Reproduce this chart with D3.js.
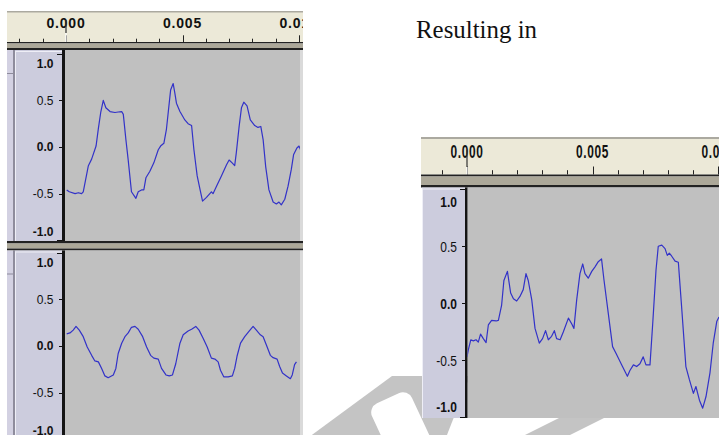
<!DOCTYPE html>
<html>
<head>
<meta charset="utf-8">
<script src="https://cdn.jsdelivr.net/npm/d3@7"></script>
<style>
  html, body { margin: 0; padding: 0; background: #fff; }
  svg { display: block; }
</style>
</head>
<body>
<svg id="chart" width="719" height="435"></svg>
<script>
// [time in ms, amplitude]
const inputTop = [[0.03,-0.46],[0.14,-0.48],[0.39,-0.50],[0.53,-0.49],[0.67,-0.50],[0.74,-0.48],[0.96,-0.20],[1.10,-0.13],[1.29,0.01],[1.39,0.20],
  [1.49,0.37],[1.60,0.50],[1.71,0.42],[1.89,0.38],[2.10,0.37],[2.24,0.375],[2.39,0.38],[2.46,0.35],[2.57,0.08],[2.67,-0.14],
  [2.81,-0.48],[3.00,-0.55],[3.10,-0.48],[3.24,-0.46],[3.34,-0.46],[3.43,-0.33],[3.60,-0.26],[3.77,-0.17],[3.96,-0.03],[4.06,0.01],
  [4.20,0.04],[4.31,0.19],[4.43,0.47],[4.49,0.61],[4.60,0.68],[4.67,0.58],[4.74,0.47],[4.89,0.38],[5.10,0.29],[5.24,0.25],
  [5.39,0.23],[5.49,-0.03],[5.63,-0.31],[5.74,-0.44],[5.86,-0.58],[6.03,-0.54],[6.24,-0.48],[6.31,-0.50],[6.46,-0.42],[6.67,-0.31],
  [6.89,-0.19],[7.00,-0.14],[7.13,-0.17],[7.24,-0.20],[7.31,-0.06],[7.43,0.22],[7.53,0.42],[7.63,0.48],[7.77,0.44],[7.91,0.29],
  [8.10,0.23],[8.24,0.21],[8.36,0.22],[8.46,0.08],[8.57,-0.21],[8.71,-0.46],[8.89,-0.59],[9.03,-0.61],[9.14,-0.59],[9.24,-0.62],
  [9.39,-0.56],[9.53,-0.42],[9.67,-0.24],[9.77,-0.08],[9.91,-0.01],[10.00,0.01],[10.10,-0.05],[10.17,-0.06]];

const inputBottom = [[0.03,0.13],[0.17,0.14],[0.31,0.17],[0.43,0.21],[0.57,0.17],[0.74,0.10],[0.91,-0.01],[1.10,-0.10],[1.24,-0.16],[1.39,-0.17],
  [1.53,-0.24],[1.67,-0.32],[1.81,-0.34],[2.03,-0.31],[2.14,-0.24],[2.24,-0.08],[2.39,0.03],[2.53,0.10],[2.67,0.14],[2.81,0.20],
  [2.96,0.21],[3.10,0.18],[3.29,0.10],[3.46,-0.01],[3.63,-0.10],[3.77,-0.13],[3.96,-0.14],[4.10,-0.24],[4.29,-0.31],[4.43,-0.32],
  [4.57,-0.31],[4.71,-0.19],[4.89,0.03],[5.03,0.12],[5.24,0.16],[5.39,0.18],[5.57,0.21],[5.71,0.17],[5.89,0.08],[6.06,-0.01],
  [6.24,-0.13],[6.39,-0.14],[6.53,-0.17],[6.63,-0.26],[6.77,-0.33],[6.96,-0.33],[7.14,-0.32],[7.24,-0.24],[7.34,-0.11],[7.49,0.03],
  [7.67,0.10],[7.86,0.16],[8.03,0.21],[8.17,0.17],[8.34,0.12],[8.46,0.10],[8.60,0.01],[8.77,-0.10],[8.89,-0.125],[9.06,-0.14],
  [9.17,-0.22],[9.29,-0.29],[9.46,-0.32],[9.63,-0.35],[9.71,-0.31],[9.81,-0.20],[9.89,-0.17]];

const result = [[0.00,-0.47],[0.05,-0.41],[0.15,-0.32],[0.25,-0.33],[0.36,-0.32],[0.45,-0.34],[0.54,-0.27],[0.65,-0.31],[0.76,-0.345],[0.85,-0.19],
  [0.98,-0.15],[1.16,-0.155],[1.25,-0.15],[1.38,-0.015],[1.47,0.20],[1.61,0.28],[1.74,0.09],[1.85,0.04],[1.98,0.02],[2.11,0.06],
  [2.24,0.12],[2.35,0.26],[2.44,0.20],[2.58,0.03],[2.71,-0.22],[2.88,-0.35],[3.01,-0.31],[3.13,-0.24],[3.24,-0.32],[3.37,-0.29],
  [3.48,-0.24],[3.57,-0.31],[3.71,-0.32],[3.84,-0.25],[4.04,-0.13],[4.17,-0.18],[4.26,-0.22],[4.37,0.03],[4.50,0.26],[4.61,0.345],
  [4.70,0.26],[4.83,0.22],[4.97,0.28],[5.10,0.32],[5.23,0.365],[5.36,0.39],[5.46,0.20],[5.63,-0.09],[5.80,-0.38],[5.96,-0.45],
  [6.16,-0.54],[6.39,-0.64],[6.49,-0.59],[6.63,-0.54],[6.76,-0.555],[6.89,-0.53],[7.02,-0.47],[7.13,-0.54],[7.29,-0.54],[7.40,-0.175],
  [7.53,0.29],[7.62,0.50],[7.76,0.51],[7.89,0.48],[7.98,0.42],[8.06,0.44],[8.15,0.415],[8.29,0.37],[8.42,0.36],[8.55,-0.03],
  [8.72,-0.555],[8.86,-0.67],[9.02,-0.79],[9.12,-0.73],[9.26,-0.85],[9.39,-0.92],[9.52,-0.82],[9.68,-0.61],[9.81,-0.35],[9.95,-0.16],[10.04,-0.12]];

const rulerTimes = [0, 5, 10];          // ms
const rulerLabels = ['0.000', '0.005', '0.010'];
const ampValues = [1, 0.5, 0, -0.5, -1];
const ampLabels = ['1.0', '0.5', '0.0', '-0.5', '-1.0'];
const ampBold = [true, false, true, false, true];

const svg = d3.select('#chart');
const defs = svg.append('defs');
let clipN = 0;

function clipRect(x, y, w, h) {
  const id = 'clip' + (clipN++);
  defs.append('clipPath').attr('id', id).append('rect')
    .attr('x', x).attr('y', y).attr('width', w).attr('height', h);
  return `url(#${id})`;
}

function label(g, str, x, cy, o) {
  g.append('text')
    .attr('transform', `translate(${x},${cy}) scale(${o.sx || 1},${o.sy || 1})`)
    .attr('y', o.size * 0.36)
    .attr('text-anchor', o.anchor || 'middle')
    .style('font-family', '"Liberation Sans", Arial, sans-serif')
    .style('font-size', o.size + 'px')
    .style('font-weight', o.bold ? 'bold' : 'normal')
    .style('letter-spacing', (o.ls || 0) + 'px')
    .attr('fill', '#111')
    .text(str);
}

// dark / band / dark strip between ruler and tracks
function separator(g, c, y, s) {
  g.append('rect').attr('x', c.left).attr('y', y).attr('width', c.right - c.left).attr('height', s[0]).attr('fill', '#222');
  g.append('rect').attr('x', c.left).attr('y', y + s[0]).attr('width', c.right - c.left).attr('height', s[1]).attr('fill', '#ACA899');
  g.append('rect').attr('x', c.left).attr('y', y + s[0] + s[1]).attr('width', c.right - c.left).attr('height', s[2]).attr('fill', '#222');
}

function drawShot(c) {
  const g = svg.append('g').attr('clip-path', clipRect(c.left, c.top, c.right - c.left, c.bottom - c.top));
  const x = d3.scaleLinear().domain([0, 1]).range([c.zeroX, c.zeroX + c.pxPerMs]);

  // ruler
  g.append('rect').attr('x', c.left).attr('y', c.top).attr('width', c.right - c.left)
    .attr('height', c.rulerBase - c.top).attr('fill', '#ECE9D8');
  g.append('rect').attr('x', c.left).attr('y', c.top).attr('width', c.right - c.left)
    .attr('height', c.topLine).attr('fill', '#ABA9A0');

  g.selectAll(null).data(d3.range(-4, 12)).join('line')
    .attr('x1', d => Math.round(x(d)) + 0.5).attr('x2', d => Math.round(x(d)) + 0.5)
    .attr('y1', d => c.rulerBase - (d % 5 === 0 ? c.major : c.minor)).attr('y2', c.rulerBase)
    .attr('stroke', '#222').attr('stroke-width', 1);

  rulerLabels.forEach((s, i) => label(g, s, x(rulerTimes[i]), c.labelY,
    {size: 14, bold: true, sx: c.rsx, sy: c.rsy, ls: 0.8}));

  // play cursor
  g.append('line').attr('x1', x(0)).attr('x2', x(0)).attr('y1', c.cursor[0]).attr('y2', c.cursor[1])
    .attr('stroke', '#333').attr('stroke-width', 1.2);
  g.append('line').attr('x1', x(0)).attr('x2', x(0)).attr('y1', c.cursor[1]).attr('y2', c.rulerBase)
    .attr('stroke', '#fff').attr('stroke-width', 1.2);

  separator(g, c, c.rulerBase, c.sep);

  c.tracks.forEach((t, ti) => {
    if (ti > 0) separator(g, c, t.top - c.sep2[0] - c.sep2[1] - c.sep2[2], c.sep2);
    const h = t.bottom - t.top;

    // wave background
    g.append('rect').attr('x', c.waveLeft).attr('y', t.top).attr('width', c.waveRight - c.waveLeft)
      .attr('height', h).attr('fill', '#C0C0C0');
    if (c.stripRight) {
      g.append('rect').attr('x', c.waveRight).attr('y', t.top).attr('width', c.stripRight - c.waveRight)
        .attr('height', h).attr('fill', '#DADADA');
    }
    // track control strip at far left
    if (c.ctrlRight) {
      g.append('rect').attr('x', c.left).attr('y', t.top).attr('width', c.ctrlRight - c.left)
        .attr('height', h).attr('fill', '#D3D1E2');
      g.append('rect').attr('x', c.ctrlRight).attr('y', t.top).attr('width', 2)
        .attr('height', h).attr('fill', '#8E8C9C');
      g.append('rect').attr('x', c.left).attr('y', t.top + 23).attr('width', c.ctrlRight - c.left)
        .attr('height', 1).attr('fill', '#8E8C9C');
    }
    // amplitude label panel
    g.append('rect').attr('x', c.panelLeft).attr('y', t.top).attr('width', c.panelRight - c.panelLeft)
      .attr('height', h).attr('fill', '#CCCCDD');
    g.append('rect').attr('x', c.panelLeft).attr('y', t.top + 1).attr('width', c.panelRight - c.panelLeft)
      .attr('height', 1).attr('fill', '#EEEEF6');
    g.append('rect').attr('x', c.panelLeft).attr('y', t.top + 1).attr('width', 1)
      .attr('height', h).attr('fill', '#EEEEF6');
    g.append('rect').attr('x', c.panelRight).attr('y', t.top).attr('width', c.waveLeft - c.panelRight)
      .attr('height', h).attr('fill', '#141414');

    const y = d3.scaleLinear().domain([-1, 1]).range([t.yLow, t.yHigh]);

    g.selectAll(null).data(ampValues).join('line')
      .attr('x1', d => c.panelRight - (Math.abs(d) === 1 ? 5 : 3)).attr('x2', c.panelRight)
      .attr('y1', d => Math.round(y(d)) + 0.5).attr('y2', d => Math.round(y(d)) + 0.5)
      .attr('stroke', '#111').attr('stroke-width', 1);

    ampValues.forEach((v, i) => {
      let cy = y(v);
      if (v === 1) cy += 10.4 * c.asy;
      if (v === -1) cy -= 9 * c.asy;
      label(g, ampLabels[i], c.ampRight, cy, {size: 12, bold: ampBold[i], sy: c.asy, anchor: 'end'});
    });

    const line = d3.line().x(d => x(d[0])).y(d => y(d[1]));
    g.append('g').attr('clip-path', clipRect(c.waveLeft, t.top, c.waveRight - c.waveLeft, h))
      .append('path').datum(t.data)
      .attr('d', line)
      .attr('fill', 'none')
      .attr('stroke', '#3232C8')
      .attr('stroke-width', 1.2)
      .attr('stroke-linejoin', 'round');
  });
}

// watermark behind the screenshots
const wm = svg.append('g');
wm.append('polygon').attr('points', '305,440 392,376 470,376 445,440').attr('fill', '#C4C4C4');
wm.append('rect').attr('x', 376).attr('y', 396).attr('width', 44).attr('height', 60).attr('rx', 10)
  .attr('transform', 'rotate(-25,398,420)').attr('fill', '#fff');
wm.append('polygon').attr('points', '515,440 560,440 630,405 585,405').attr('fill', '#C4C4C4');

// input (two tracks)
drawShot({
  left: 7, right: 303, top: 11, bottom: 435,
  topLine: 1.5, rulerBase: 42, minor: 3.3, major: 6.7,
  zeroX: 66, pxPerMs: 23.3, labelY: 23, rsx: 1, rsy: 1,
  cursor: [20, 33],
  sep: [1.5, 4.5, 2], sep2: [2.5, 5, 2],
  ctrlRight: 13, panelLeft: 15, panelRight: 62, waveLeft: 65, waveRight: 300, stripRight: 303,
  ampRight: 53.5, asy: 1,
  tracks: [
    {top: 50, bottom: 241, yHigh: 53.7, yLow: 240.3, data: inputTop},
    {top: 250.5, bottom: 440, yHigh: 252.6, yLow: 439.4, data: inputBottom}
  ]
});

// result
drawShot({
  left: 421, right: 719, top: 137, bottom: 418,
  topLine: 2, rulerBase: 174.5, minor: 4.3, major: 8,
  zeroX: 467, pxPerMs: 25.1, labelY: 151.5, rsx: 0.85, rsy: 1.3,
  cursor: [150, 167],
  sep: [2, 8.5, 2.5], sep2: [0, 0, 0],
  ctrlRight: 0, panelLeft: 422, panelRight: 465, waveLeft: 467.5, waveRight: 719, stripRight: 0,
  ampRight: 457, asy: 1.22,
  tracks: [
    {top: 187.5, bottom: 418, yHigh: 189.3, yLow: 417.3, data: result}
  ]
});

svg.append('text')
  .attr('x', 416).attr('y', 38)
  .attr('textLength', 121).attr('lengthAdjust', 'spacingAndGlyphs')
  .style('font-family', '"Liberation Serif", "Times New Roman", serif')
  .style('font-size', '26px')
  .attr('fill', '#111')
  .text('Resulting in');
</script>
</body>
</html>
